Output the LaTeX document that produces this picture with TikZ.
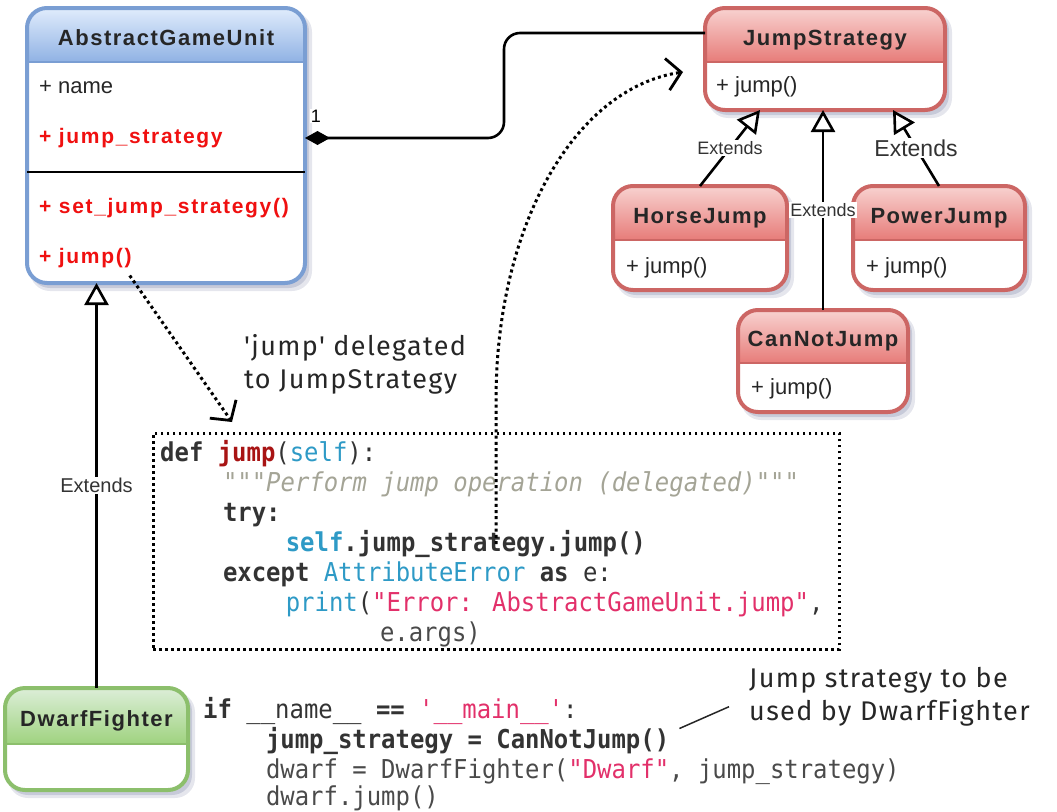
\documentclass[tikz,border=0pt]{standalone}
\usepackage{fontspec}
\setmainfont{Liberation Sans}
\newfontfamily\umlbf[LetterSpace=7]{Liberation Sans}
\newfontfamily\umlbfm[LetterSpace=8]{Liberation Sans}
\newfontfamily\codefont[FakeStretch=0.92,Ligatures=TeXOff,WordSpace={1,0,0}]{DejaVu Sans Mono}
\newfontfamily\handfont[LetterSpace=5]{Fira Sans}
\usetikzlibrary{arrows.meta,calc}

\definecolor{bluetop}{HTML}{E0ECFC}
\definecolor{bluebot}{HTML}{90B2E4}
\definecolor{blueborder}{HTML}{7A9ED3}
\definecolor{redtop}{HTML}{F8D2D0}
\definecolor{redbot}{HTML}{E77C79}
\definecolor{redborder}{HTML}{CC6664}
\definecolor{greentop}{HTML}{DCEED8}
\definecolor{greenbot}{HTML}{9FD27F}
\definecolor{greenborder}{HTML}{8CBF6C}
\definecolor{shadowc}{HTML}{B4B8CC}
\definecolor{cdark}{HTML}{333333}
\definecolor{cgray}{HTML}{4A4A4A}
\definecolor{cred}{HTML}{A81414}
\definecolor{cblue}{HTML}{2E9AC6}
\definecolor{cpink}{HTML}{E2306A}
\definecolor{cdoc}{HTML}{A4A496}
\definecolor{memred}{HTML}{F01010}

% indentation of the code lines (slightly wider than one glyph, as in the reference)
\newcommand\ind[1]{\hspace*{#1\dimexpr 15.7pt\relax}}

\newcommand\umlclass[8]{%
  \fill[shadowc, opacity=0.35, rounded corners=20pt] (#2+3,#3+4) rectangle (#4+7,#5+8);
  \fill[shadowc, opacity=0.6, rounded corners=20pt] (#2+3,#3+3) rectangle (#4+4,#5+5);
  \fill[white, rounded corners=20pt] (#2,#3) rectangle (#4,#5);
  \begin{scope}
    \clip[rounded corners=20pt] (#2,#3) rectangle (#4,#5);
    \shade[top color=#7top, bottom color=#7bot] (#2,#3) rectangle (#4,#6);
  \end{scope}
  \draw[#7border, line width=2pt] (#2,#6) -- (#4,#6);
  \node[draw=#7border, line width=4pt, rounded corners=20pt, inner sep=0pt, outer sep=0pt,
        minimum width={(#4-#2)*1pt}, minimum height={(#5-#3)*1pt}, anchor=north west] (#1) at (#2,#3) {};
  \node[umltitle, anchor=base] (#1-title) at ({(#2+#4)/2},{(#3+#6)/2+10}) {#8};
}

\tikzset{
  umltitle/.style={inner sep=0pt, text=black!85, font=\umlbf\bfseries\fontsize{22}{26}\selectfont},
  member/.style={anchor=base west, inner sep=0pt, text=black!85, font=\fontsize{22}{26}\selectfont},
  redmember/.style={anchor=base west, inner sep=0pt, text=memred, font=\umlbfm\bfseries\fontsize{21}{25}\selectfont},
  codeline/.style={anchor=base west, inner sep=0pt, text=cdark, font=\codefont\fontsize{26}{30}\selectfont},
  ext/.style={draw=black, line width=2.6pt, -{Triangle[open, length=22pt, width=24pt, fill=white, line width=2.6pt]}},
  extlbl/.style={fill=white, inner sep=1.5pt, text=black!80},
  dotarrow/.style={draw=black, line width=3pt, dash pattern=on 3pt off 3.2pt,
        -{Straight Barb[length=14pt, width=32pt, line width=2.8pt]}},
  hand/.style={inner sep=0pt, text=black!85, align=left, font=\handfont\fontsize{27}{33}\selectfont},
}

\begin{document}
\begin{tikzpicture}[x=1pt, y=-1pt]
\useasboundingbox (0,0) rectangle (1057,811);

% ---------- classes ----------
\umlclass{agu}{27}{8}{305}{283}{62}{blue}{AbstractGameUnit}
\draw[black, line width=1.5pt] (27,172) -- (305,172);
\node[member] (agu-m1) at (39,93) {+ name};
\node[redmember] (agu-m2) at (39,143) {+ jump\_strategy};
\node[redmember] (agu-m3) at (39,213) {+ set\_jump\_strategy()};
\node[redmember] (agu-m4) at (39,263) {+ jump()};

\umlclass{js}{705}{8}{945}{110}{62}{red}{JumpStrategy}
\node[member] (js-m1) at (716,92) {+ jump()};

\umlclass{hj}{613}{186}{787}{290}{240}{red}{HorseJump}
\node[member] (hj-m1) at (626,273) {+ jump()};

\umlclass{pj}{853}{186}{1025}{290}{240}{red}{PowerJump}
\node[member] (pj-m1) at (866,273) {+ jump()};

\umlclass{cnj}{738}{310}{908}{412}{363}{red}{CanNotJump}
\node[member] (cnj-m1) at (751,394) {+ jump()};

\umlclass{df}{5}{688}{188}{790}{744}{green}{DwarfFighter}

% ---------- composition ----------
\draw[black, line width=2.6pt, rounded corners=16pt, {Diamond[length=25pt, width=14pt]}-]
  ($(agu.north east)+(0,130)$) -- (504,138) -- (504,33) -- ($(js.north west)+(0,25)$);
\node[fill=white, inner sep=1pt, font=\fontsize{18}{20}\selectfont] (one) at (316,116) {1};

% ---------- generalisations ----------
\draw[ext] (hj.north) -- ($(js.south)+(-65,0)$)
  node[extlbl, midway, font=\fontsize{18}{20}\selectfont] (l-hj) {Extends};
\draw[ext] (cnj.north) -- (cnj.north |- js.south)
  node[extlbl, midway, font=\fontsize{18}{20}\selectfont] (l-cnj) {Extends};
\draw[ext] (pj.north) -- ($(js.south)+(68,0)$)
  node[extlbl, midway, font=\fontsize{23}{25}\selectfont] (l-pj) {Extends};
\draw[ext] (df.north) -- (df.north |- agu.south)
  node[extlbl, midway, font=\fontsize{20}{22}\selectfont] (l-df) {Extends};

% ---------- code box ----------
\node[draw=black, line width=2.6pt, dash pattern=on 2.6pt off 3.4pt, inner sep=0pt,
      minimum width=686pt, minimum height=216pt, anchor=north west] (code) at (152,432) {};

\node[codeline] (c1) at (160,461) {{\bfseries def} {\bfseries\color{cred}jump}({\color{cblue}self}):};
\node[codeline] (c2) at (160,491) {\ind{4}{\itshape\color{cdoc}"""Perform jump operation (delegated)"""}};
\node[codeline] (c3) at (160,521) {\ind{4}{\bfseries try:}};
\node[codeline] (c4) at (160,551) {\ind{8}{\bfseries{\color{cblue}self}.jump\_strategy.jump()}};
\node[codeline] (c5) at (160,581) {\ind{4}{\bfseries except} {\color{cblue}AttributeError} {\bfseries as} e:};
\node[codeline] (c6) at (160,611) {\ind{8}{\color{cblue}print}({\color{cpink}"Error: AbstractGameUnit.jump"},};
\node[codeline, text=cgray] (c7) at (160,641) {\ind{14}e.args)};

\node[codeline] (b1) at (203,718) {{\bfseries if} \_\_name\_\_ {\bfseries ==} {\color{cpink}'\_\_main\_\_'}:};
\node[codeline] (b2) at (203,748) {\ind{4}{\bfseries jump\_strategy = CanNotJump()}};
\node[codeline, text=cgray] (b3) at (203,778) {\ind{4}dwarf = DwarfFighter({\color{cpink}"Dwarf"}, jump\_strategy)};
\node[codeline, text=cgray] (b4) at (203,805) {\ind{4}dwarf.jump()};

% ---------- dotted arrows ----------
\draw[dotarrow] ($(agu-m4.south east)+(-2,8)$) -- ($(code.north west)+(80,-10)$);
\draw[dotarrow] ($(code.north west)+(344,112)$) -- ($(code.north west)+(344,-32)$)
  .. controls (496,225) and (575,88) .. ($(js.north west)+(-22,64)$);

% ---------- annotations ----------
\node[hand, anchor=north west] (ann1) at (244,334) {'jump' delegated\\to JumpStrategy};
\node[hand, anchor=north west] (ann2) at (749,667) {Jump strategy to be\\used by DwarfFighter};
\draw[black!85, line width=1.5pt] ($(b2.east)+(10,-12)$) -- ($(ann2.west)+(-20,10)$);
\end{tikzpicture}
\end{document}
